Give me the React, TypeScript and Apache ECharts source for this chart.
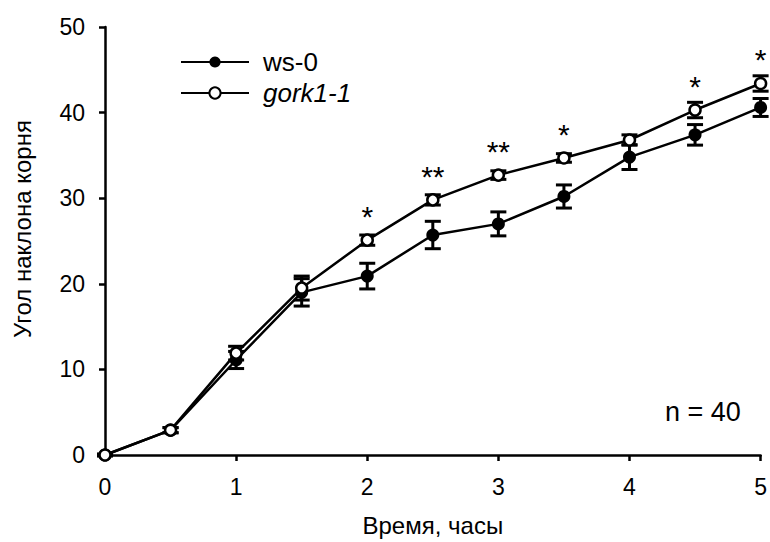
import React, { useEffect, useRef } from "react";
import * as echarts from "echarts";

const times = [0, 0.5, 1, 1.5, 2, 2.5, 3, 3.5, 4, 4.5, 5];
const ws0Mean = [0, 2.9, 11.1, 19.0, 20.9, 25.7, 27.0, 30.2, 34.8, 37.4, 40.6];
const ws0Err = [0.1, 0.3, 1.0, 1.6, 1.5, 1.6, 1.4, 1.35, 1.45, 1.2, 1.05];
const gorkMean = [0, 2.9, 11.9, 19.5, 25.1, 29.8, 32.7, 34.7, 36.8, 40.3, 43.4];
const gorkErr = [0.1, 0.3, 0.8, 1.4, 0.6, 0.6, 0.5, 0.5, 0.6, 0.9, 0.9];
const significance = ["", "", "", "", "*", "**", "**", "*", "", "*", "*"];
const xTicks = [0, 1, 2, 3, 4, 5];
const yTicks = [0, 10, 20, 30, 40, 50];

const FONT = "'Liberation Sans', Arial, sans-serif";

function errorSeries(name: string, mean: number[], err: number[]) {
  return {
    type: "custom",
    name: name + "-err",
    z: 2,
    silent: true,
    data: times.map((t, i) => [t, mean[i] - err[i], mean[i] + err[i]]),
    renderItem: (params: any, api: any) => {
      const x = api.value(0);
      const lo = api.coord([x, api.value(1)]);
      const hi = api.coord([x, api.value(2)]);
      const hw = 8;
      const style = { stroke: "#000", lineWidth: 3 };
      return {
        type: "group",
        children: [
          { type: "line", shape: { x1: lo[0], y1: lo[1], x2: hi[0], y2: hi[1] }, style },
          { type: "line", shape: { x1: lo[0] - hw, y1: lo[1], x2: lo[0] + hw, y2: lo[1] }, style },
          { type: "line", shape: { x1: hi[0] - hw, y1: hi[1], x2: hi[0] + hw, y2: hi[1] }, style },
        ],
      };
    },
  };
}

export default function App() {
  const ref = useRef<HTMLDivElement>(null);
  useEffect(() => {
    if (!ref.current) return;
    const chart = echarts.init(ref.current, null, { renderer: "svg" });
    chart.setOption({
      animation: false,
      backgroundColor: "#fff",
      textStyle: { fontFamily: FONT, color: "#000" },
      grid: { left: 105, right: 7, top: 27, bottom: 81 },
      legend: {
        orient: "vertical",
        left: 175,
        top: 44,
        itemWidth: 68,
        itemHeight: 14,
        itemGap: 5,
        data: [
          { name: "ws-0", textStyle: { fontStyle: "normal" } },
          { name: "gork1-1", textStyle: { fontStyle: "italic" } },
        ],
        textStyle: { fontSize: 26, lineHeight: 26, fontFamily: FONT, color: "#000", padding: [0, 0, 0, 9] },
      },
      xAxis: {
        type: "value",
        min: xTicks[0],
        max: xTicks[xTicks.length - 1],
        interval: 1,
        name: "Время, часы",
        nameLocation: "middle",
        nameGap: 58,
        nameTextStyle: { fontSize: 24, fontFamily: FONT, color: "#000" },
        axisLine: { lineStyle: { color: "#000", width: 2.5 } },
        axisTick: { lineStyle: { color: "#000", width: 2.5 }, length: 6 },
        axisLabel: { fontSize: 23, color: "#000", fontFamily: FONT, margin: 20 },
        splitLine: { show: false },
      },
      yAxis: {
        type: "value",
        min: yTicks[0],
        max: yTicks[yTicks.length - 1],
        interval: 10,
        name: "Угол наклона корня",
        nameLocation: "middle",
        nameGap: 71,
        nameTextStyle: { fontSize: 24, fontFamily: FONT, color: "#000", padding: [0, 0, 0, 24] },
        axisLine: { show: true, lineStyle: { color: "#000", width: 2.5 } },
        axisTick: { show: true, lineStyle: { color: "#000", width: 2.5 }, length: 6 },
        axisLabel: { fontSize: 23, color: "#000", fontFamily: FONT, margin: 20 },
        splitLine: { show: false },
      },
      series: [
        errorSeries("ws-0", ws0Mean, ws0Err),
        errorSeries("gork1-1", gorkMean, gorkErr),
        {
          type: "line",
          name: "ws-0",
          z: 3,
          data: times.map((t, i) => [t, ws0Mean[i]]),
          symbol: "circle",
          symbolSize: 13,
          lineStyle: { color: "#000", width: 2.5 },
          itemStyle: { color: "#000", borderColor: "#000", borderWidth: 0 },
        },
        {
          type: "line",
          name: "gork1-1",
          z: 4,
          data: times.map((t, i) => [t, gorkMean[i]]),
          symbol: "circle",
          symbolSize: 11,
          lineStyle: { color: "#000", width: 2.5 },
          itemStyle: { color: "#fff", borderColor: "#000", borderWidth: 2.5 },
          label: {
            show: true,
            position: "top",
            distance: 2,
            fontSize: 30,
            fontFamily: FONT,
            color: "#000",
            formatter: (p: any) => significance[p.dataIndex],
          },
        },
      ],
      graphic: [
        {
          type: "text",
          left: 665,
          top: 398,
          style: { text: "n = 40", fontSize: 27, fontFamily: FONT, fill: "#000" },
        },
      ],
    });
    return () => chart.dispose();
  }, []);
  return (
    <div
      ref={ref}
      style={{ position: "absolute", left: 0, top: 0, width: 770, height: 542 }}
    />
  );
}
